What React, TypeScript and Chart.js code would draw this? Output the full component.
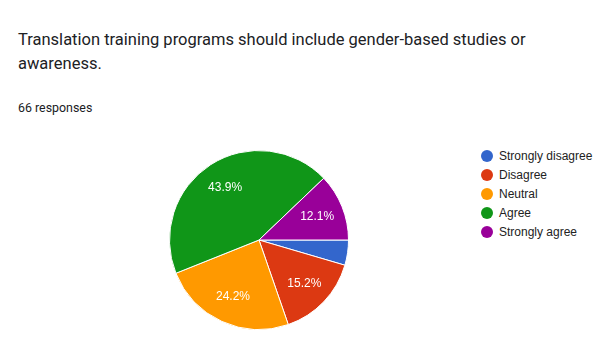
import React, { useEffect, useRef } from "react";
import { Chart, registerables } from "chart.js";

Chart.register(...registerables);

const categories = ["Strongly disagree", "Disagree", "Neutral", "Agree", "Strongly agree"];
const counts = [3, 10, 16, 29, 8];
const colors = ["#3366cc", "#dc3912", "#ff9900", "#109618", "#990099"];
const titleText = "Translation training programs should include gender-based studies or awareness.";
const subtitleText = "66 responses";

const pctLabels = {
  id: "pctLabels",
  afterDatasetsDraw(chart: any) {
    const ctx = chart.ctx;
    const meta = chart.getDatasetMeta(0);
    const data = chart.data.datasets[0].data as number[];
    const total = data.reduce((a, b) => a + b, 0);
    ctx.save();
    ctx.fillStyle = "#ffffff";
    ctx.font = "12px Arial, 'Liberation Sans', sans-serif";
    ctx.textAlign = "center";
    ctx.textBaseline = "middle";
    meta.data.forEach((arc: any, i: number) => {
      const frac = data[i] / total;
      if (frac < 0.05) return;
      const mid = (arc.startAngle + arc.endAngle) / 2;
      const r = arc.outerRadius * 0.7;
      const x = arc.x + Math.cos(mid) * r;
      const y = arc.y + Math.sin(mid) * r;
      ctx.fillText((frac * 100).toFixed(1) + "%", x, y);
    });
    ctx.restore();
  },
};

export default function App() {
  const ref = useRef<HTMLCanvasElement>(null);
  useEffect(() => {
    document.body.style.margin = "0";
    const chart = new Chart(ref.current!, {
      type: "pie",
      data: {
        labels: categories,
        datasets: [
          {
            data: counts,
            backgroundColor: colors,
            borderColor: "#ffffff",
            borderWidth: 1,
          },
        ],
      },
      options: {
        responsive: false,
        animation: false,
        rotation: 90,
        plugins: { legend: { display: false }, tooltip: { enabled: false } },
        layout: { padding: 0 },
      },
      plugins: [pctLabels],
    });
    return () => chart.destroy();
  }, []);

  return (
    <div style={{ position: "relative", width: 602, height: 358, background: "#fff", overflow: "hidden" }}>
      <div
        style={{
          position: "absolute",
          left: 18,
          top: 28,
          width: 530,
          fontFamily: "Roboto, sans-serif",
          fontSize: 16.5,
          lineHeight: "23.5px",
          color: "#202124",
        }}
      >
        {titleText}
      </div>
      <div
        style={{
          position: "absolute",
          left: 18,
          top: 100,
          fontFamily: "Roboto, sans-serif",
          fontSize: 12.4,
          lineHeight: "16px",
          color: "#202124",
        }}
      >
        {subtitleText}
      </div>
      <canvas
        ref={ref}
        width={180}
        height={180}
        style={{ position: "absolute", left: 169, top: 150, width: 180, height: 180 }}
      />
      <div style={{ position: "absolute", left: 481, top: 146 }}>
        {categories.map((c, i) => (
          <div
            key={c}
            style={{
              display: "flex",
              alignItems: "center",
              height: 19,
              fontFamily: "Arial, 'Liberation Sans', sans-serif",
              fontSize: 12,
              color: "#222222",
              whiteSpace: "nowrap",
            }}
          >
            <span
              style={{
                display: "inline-block",
                width: 12,
                height: 12,
                borderRadius: 6,
                background: colors[i],
                marginRight: 6,
              }}
            />
            {c}
          </div>
        ))}
      </div>
    </div>
  );
}
